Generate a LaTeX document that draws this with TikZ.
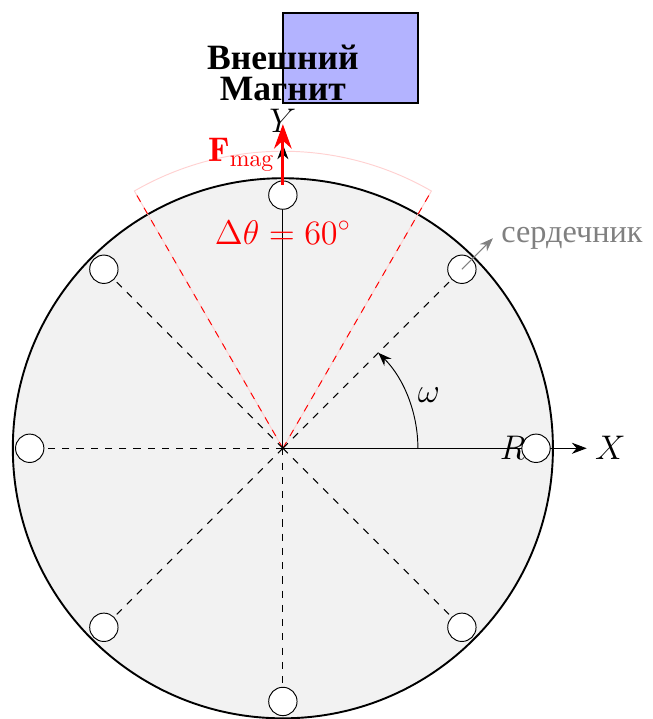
\documentclass[tikz,border=0pt]{standalone}
\usepackage{amsmath,amssymb}
\usepackage{fontspec}
\newfontfamily\rusfont{Liberation Serif}
\usepackage{xcolor}
\usepackage{tikz}
\usetikzlibrary{positioning,arrows.meta}
\definecolor{cgris}{HTML}{808080}
\definecolor{cdisco}{HTML}{F2F2F2}
\definecolor{ciman}{HTML}{B3B3FF}
\tikzset{
  disco/.style={draw=black, thick, fill=cdisco},
  nucleo/.style={circle, draw=black, fill=white, minimum size=0.42cm, inner sep=0pt},
  radio/.style={dashed, draw=black},
  eje/.style={-{Stealth[length=2.2mm]}, draw=black},
  fuerza/.style={-{Stealth[length=3.6mm, width=2.6mm]}, very thick, draw=red},
  sector/.style={draw=red!18},
  borde/.style={dashed, draw=red},
  iman/.style={rectangle, draw=black, thick, fill=ciman, minimum width=2cm, minimum height=1.33cm},
  flecha/.style={-{Stealth[length=2mm]}, draw=black},
  flechag/.style={-{Stealth[length=2mm]}, draw=cgris},
  etq/.style={font=\Large},
  etqr/.style={font=\rusfont\bfseries\fontsize{15}{13}\selectfont, align=center},
  etqg/.style={font=\rusfont\fontsize{13.6}{16}\selectfont, text=cgris},
}

\begin{document}
\begin{tikzpicture}
  \useasboundingbox (-4.19,-4.01) rectangle (5.47,6.64);
  \coordinate (o) at (0,0);
  % disco y sector de 60 grados
  \draw[disco] (o) circle (4);
  \draw[sector] (o) -- (60:4.4) arc (60:120:4.4) -- cycle;
  \coordinate (s1) at (60:4.4);
  \coordinate (s2) at (120:4.4);
  \draw[borde] (o) -- (s1); \draw[borde] (o) -- (s2);
  % ejes
  \coordinate (xfin) at (4.5,0);
  \coordinate (yfin) at (0,4.55);
  \draw[eje] (o) -- (xfin); \draw[eje] (o) -- (0,4.5);
  \node[etq, right] (lx) at (xfin) {$X$};
  \node[etq, above] (ly) at (yfin) {$Y$};
  % nucleos
  \foreach \a [count=\i] in {0,45,...,315}
    \node[nucleo] (n\i) at (\a:3.75) {};
  \foreach \i in {1,...,8}
    \draw[radio] (o) -- (n\i);
  \node[etq, left] (lr) at (3.72,0) {$R$};
  % rotacion
  \coordinate (w0) at (2,0);
  \draw[flecha] (w0) arc (0:45:2);
  \node[etq] (lw) at (20:2.3) {$\omega$};
  % fuerza magnetica
  \coordinate (fini) at (0,3.9);
  \coordinate (ffin) at (0,4.8);
  \draw[fuerza] (fini) -- (ffin);
  \node[etq, text=red, left] (lf) at (0,4.35) {$\mathbf{F}_{\text{mag}}$};
  \node[etq, text=red] (lt) at (0,3.2) {$\Delta\theta = 60^\circ$};
  % etiqueta del nucleo
  \coordinate (cfin) at (45:4.4);
  \draw[flechag] (n2.center) -- (cfin);
  \node[etqg, right] (lc) at (cfin) {сердечник};
  % iman externo
  \node[iman] (im) at (1,5.78) {};
  \node[etqr] (lim) at (0,5.56) {Внешний\\Магнит};
\end{tikzpicture}
\end{document}
